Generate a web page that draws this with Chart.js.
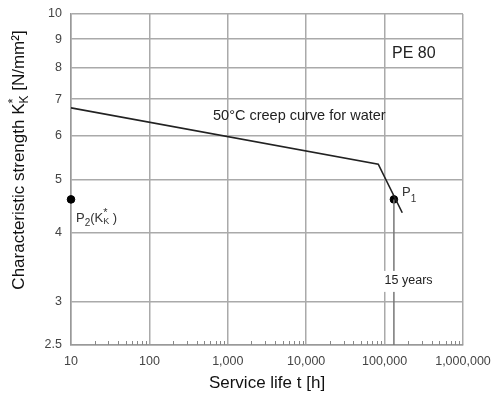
<!DOCTYPE html>
<html>
<head>
<meta charset="utf-8">
<script src="https://cdn.jsdelivr.net/npm/chart.js@4.4.1/dist/chart.umd.min.js"></script>
<style>
html,body{margin:0;padding:0;background:#fff;}
#wrap{width:492px;height:394px;}
</style>
</head>
<body>
<div id="wrap"><canvas id="c" width="492" height="394"></canvas></div>
<script>
const xTicks = [10, 100, 1000, 10000, 100000, 1000000];
const xTickLabels = ['10', '100', '1,000', '10,000', '100,000', '1,000,000'];
const yTicks = [2.5, 3, 4, 5, 6, 7, 8, 9, 10];
const yTickLabels = ['2.5', '3', '4', '5', '6', '7', '8', '9', '10'];
const curveHours = [10, 83000, 168000];
const curveStrength = [6.75, 5.33, 4.35];
const pointHours = [10, 131400];
const pointStrength = [4.6, 4.6];
const fifteenYearsHours = 131400;
const fifteenYearsLabelY = 3.27;

const FONT = '"Liberation Sans", Arial, sans-serif';

function drawRich(ctx, x, y, segs) {
  let cx = x;
  for (const s of segs) {
    if (s.stack) {
      let w = 0;
      for (const p of s.stack) {
        ctx.font = p.size + 'px ' + FONT;
        ctx.fillText(p.t, cx, y + p.dy);
        w = Math.max(w, ctx.measureText(p.t).width);
      }
      cx += w;
    } else {
      ctx.font = s.size + 'px ' + FONT;
      ctx.fillText(s.t, cx, y + (s.dy || 0));
      cx += ctx.measureText(s.t).width;
    }
  }
  return cx - x;
}
function richWidth(ctx, segs) {
  let w = 0;
  for (const s of segs) {
    if (s.stack) {
      let m = 0;
      for (const p of s.stack) { ctx.font = p.size + 'px ' + FONT; m = Math.max(m, ctx.measureText(p.t).width); }
      w += m;
    } else { ctx.font = s.size + 'px ' + FONT; w += ctx.measureText(s.t).width; }
  }
  return w;
}

const annot = {
  id: 'annot',
  afterDatasetsDraw(chart) {
    const ctx = chart.ctx;
    const xs = chart.scales.x, ys = chart.scales.y;
    const ca = chart.chartArea;
    ctx.save();
    // minor ticks on x axis
    ctx.strokeStyle = '#888';
    ctx.lineWidth = 1;
    for (let d = 10; d < 1000000; d *= 10) {
      for (let m = 2; m <= 9; m++) {
        const px = Math.round(xs.getPixelForValue(d * m)) + 0.5;
        ctx.beginPath();
        ctx.moveTo(px, ca.bottom);
        ctx.lineTo(px, ca.bottom - 4);
        ctx.stroke();
      }
    }
    ctx.fillStyle = '#222';
    ctx.textBaseline = 'middle';
    ctx.textAlign = 'left';
    // PE 80
    ctx.font = '16px ' + FONT;
    ctx.fillText('PE 80', 392, 54);
    // curve label
    ctx.font = '14.5px ' + FONT;
    ctx.fillText('50°C creep curve for water', 213, 116);
    // 15 years
    const lx = xs.getPixelForValue(100000);
    const ly = ys.getPixelForValue(fifteenYearsLabelY);
    ctx.font = '12.5px ' + FONT;
    const tw = ctx.measureText('15 years').width;
    ctx.fillStyle = '#fff';
    ctx.fillRect(lx - 2, ly - 10, tw + 4, 21);
    ctx.fillStyle = '#222';
    ctx.fillText('15 years', lx, ly);
    // P1
    ctx.fillStyle = '#333';
    ctx.textBaseline = 'alphabetic';
    drawRich(ctx, 402, 196, [{t: 'P', size: 13}, {t: '1', size: 10, dy: 6}]);
    // P2
    drawRich(ctx, 76, 222, [{t: 'P', size: 13}, {t: '2', size: 10, dy: 4}, {t: '(K', size: 13},
      {stack: [{t: '*', size: 11, dy: -6}, {t: 'K', size: 9, dy: 2}]}, {t: ' )', size: 13}]);
    // Y title
    ctx.fillStyle = '#111';
    ctx.translate(24, 160);
    ctx.rotate(-Math.PI / 2);
    const ysegs = [{t: 'Characteristic strength K', size: 17},
      {stack: [{t: '*', size: 13, dy: -7}, {t: 'K', size: 12, dy: 4}]},
      {t: ' [N/mm²]', size: 17}];
    const w = richWidth(ctx, ysegs);
    drawRich(ctx, -w / 2, 0, ysegs);
    ctx.restore();
  }
};

new Chart(document.getElementById('c'), {
  type: 'scatter',
  data: {
    datasets: [
      {
        data: curveHours.map((h, i) => ({x: h, y: curveStrength[i]})),
        showLine: true, borderColor: '#222', borderWidth: 1.6, pointRadius: 0, tension: 0
      },
      {
        data: [{x: fifteenYearsHours, y: yTicks[0]}, {x: fifteenYearsHours, y: pointStrength[1]}],
        showLine: true, borderColor: '#777', borderWidth: 1.5, pointRadius: 0
      },
      {
        data: pointHours.map((h, i) => ({x: h, y: pointStrength[i]})),
        showLine: false, pointRadius: 3.8, pointBackgroundColor: '#000', pointBorderColor: '#000', clip: false
      }
    ]
  },
  options: {
    responsive: false,
    animation: false,
    devicePixelRatio: 1,
    layout: {padding: {top: 14, right: 29, left: 0, bottom: 0}},
    plugins: {legend: {display: false}, tooltip: {enabled: false}},
    scales: {
      x: {
        type: 'logarithmic', min: xTicks[0], max: xTicks[xTicks.length - 1],
        afterBuildTicks: s => { s.ticks = xTicks.map(v => ({value: v})); },
        afterFit: s => { s.height = 49; s.paddingLeft = 0; s.paddingRight = 0; },
        ticks: {
          callback: (v, i) => xTickLabels[i], color: '#444', padding: 9,
          font: {family: FONT, size: 12.5}, maxRotation: 0, autoSkip: false
        },
        grid: {color: '#aaa', lineWidth: 1.5, drawTicks: false},
        border: {color: '#999', width: 1.5},
        title: {display: true, text: 'Service life t [h]', color: '#111', font: {family: FONT, size: 17}, padding: {top: 0, bottom: 0}}
      },
      y: {
        type: 'logarithmic', min: yTicks[0], max: yTicks[yTicks.length - 1],
        afterBuildTicks: s => { s.ticks = yTicks.map(v => ({value: v})); },
        afterFit: s => { s.width = 71; s.paddingTop = 0; s.paddingBottom = 0; },
        ticks: {
          callback: (v, i) => yTickLabels[i], color: '#444', padding: 9,
          font: {family: FONT, size: 12.5}, autoSkip: false
        },
        grid: {color: '#aaa', lineWidth: 1.5, drawTicks: false},
        border: {color: '#999', width: 1.5}
      }
    }
  },
  plugins: [annot]
});
</script>
</body>
</html>
